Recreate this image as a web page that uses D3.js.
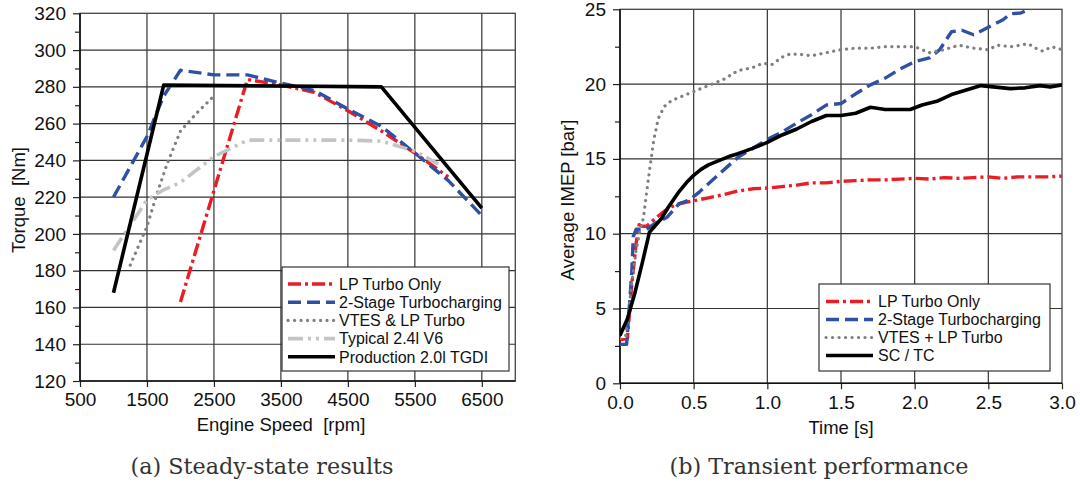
<!DOCTYPE html>
<html><head><meta charset="utf-8">
<script src="https://cdn.jsdelivr.net/npm/d3@7"></script>
<style>
html,body{margin:0;padding:0;background:#fff;}
svg{display:block;}
text{font-family:"Liberation Sans",Arial,Helvetica,sans-serif;}
text.caption{font-family:"DejaVu Serif","Liberation Serif",serif;}
</style></head>
<body>
<svg id="chart" width="1080" height="484"></svg>
<script>
// ---------- Data: (a) steady-state ----------
const rpmTicks = [500,1500,2500,3500,4500,5500,6500];
const torqueTicks = [120,140,160,180,200,220,240,260,280,300,320];
const steadyNames = ["LP Turbo Only","2-Stage Turbocharging","VTES & LP Turbo","Typical 2.4l V6","Production 2.0l TGDI"];
const lpTurboSteady = [[2000,163],[3000,284],[3500,281],[4000,277],[4500,267],[5000,256],[5500,244],[6000,231]];
const twoStageSteady = [[1000,220],[1500,253],[1750,275],[2000,289],[2500,286.5],[3000,286.5],[3500,282],[4000,278],[4500,268],[5000,258.5],[5500,244],[6000,229],[6500,210]];
const vtesSteady = [[1250,183],[1500,204],[1650,222],[1800,238],[2000,256],[2250,266],[2500,275]];
const v6Steady = [[1000,191],[1500,218.5],[1750,224],[2000,228],[2500,242],[3000,251],[3500,251],[4000,251],[4500,251],[5000,250.5],[5500,245],[5850,238]];
const productionSteady = [[1000,168],[1750,281],[5000,280],[6500,214]];

// ---------- Data: (b) transient ----------
const timeTicks = [0,0.5,1.0,1.5,2.0,2.5,3.0];
const imepTicks = [0,5,10,15,20,25];
const transientNames = ["LP Turbo Only","2-Stage Turbocharging","VTES + LP Turbo","SC / TC"];
const lpTurboTransient = [[0,2.9],[0.05,3.0],[0.08,6.6],[0.11,9.4],[0.13,10.6],[0.15,10.5],[0.18,10.5],[0.25,11.1],[0.3,11.5],[0.35,11.8],[0.4,12.0],[0.5,12.2],[0.6,12.4],[0.7,12.6],[0.8,12.85],[0.9,13.0],[1.0,13.05],[1.1,13.15],[1.2,13.25],[1.3,13.4],[1.4,13.4],[1.5,13.5],[1.6,13.55],[1.7,13.6],[1.8,13.6],[1.9,13.65],[2.0,13.7],[2.1,13.65],[2.2,13.75],[2.3,13.7],[2.4,13.75],[2.5,13.8],[2.6,13.7],[2.7,13.8],[2.8,13.8],[2.9,13.8],[3.0,13.85]];
const twoStageTransient = [[0,2.6],[0.045,2.6],[0.08,7.4],[0.09,9.8],[0.11,10.3],[0.18,10.3],[0.24,10.7],[0.32,11.1],[0.4,12.0],[0.47,12.25],[0.54,12.8],[0.63,13.6],[0.72,14.4],[0.8,15.1],[0.9,15.7],[1.0,16.3],[1.1,16.8],[1.2,17.4],[1.3,17.95],[1.4,18.6],[1.5,18.7],[1.6,19.35],[1.7,19.95],[1.8,20.4],[1.9,21.0],[2.0,21.5],[2.1,21.75],[2.17,22.3],[2.25,23.5],[2.32,23.6],[2.4,23.3],[2.5,23.8],[2.6,24.3],[2.65,24.7],[2.72,24.75],[2.8,25.1]];
const vtesTransient = [[0,3.0],[0.04,3.2],[0.08,6.7],[0.11,8.9],[0.135,10.2],[0.16,11.1],[0.18,12.7],[0.2,14.2],[0.23,16.3],[0.26,17.7],[0.3,18.5],[0.35,18.9],[0.4,19.1],[0.5,19.5],[0.6,19.9],[0.7,20.3],[0.8,20.9],[0.9,21.1],[0.97,21.4],[1.03,21.3],[1.1,21.8],[1.15,22.0],[1.2,22.0],[1.3,21.9],[1.4,22.1],[1.5,22.3],[1.6,22.4],[1.7,22.4],[1.8,22.5],[1.9,22.5],[2.0,22.5],[2.05,22.3],[2.1,22.1],[2.2,22.3],[2.3,22.6],[2.4,22.4],[2.5,22.3],[2.56,22.6],[2.66,22.5],[2.77,22.7],[2.82,22.4],[2.87,22.2],[2.93,22.5],[3.0,22.3]];
const scTcTransient = [[0,3.2],[0.05,4.3],[0.1,6.0],[0.15,8.0],[0.2,10.1],[0.28,11.0],[0.33,11.8],[0.4,12.8],[0.45,13.4],[0.5,13.9],[0.55,14.3],[0.6,14.6],[0.7,15.0],[0.75,15.2],[0.8,15.35],[0.9,15.7],[1.0,16.1],[1.1,16.6],[1.2,17.0],[1.3,17.5],[1.4,17.9],[1.5,17.9],[1.6,18.05],[1.7,18.45],[1.8,18.3],[1.9,18.3],[1.97,18.3],[2.05,18.6],[2.15,18.85],[2.25,19.3],[2.35,19.6],[2.45,19.9],[2.55,19.8],[2.65,19.7],[2.75,19.75],[2.85,19.9],[2.92,19.8],[3.0,19.95]];

// ---------- Styles ----------
const styles = {
  red:   {stroke:"#ec1c24", width:3.4, dash:"13,4,3,4", cap:"butt"},
  blue:  {stroke:"#2f50a3", width:3.4, dash:"13,6", cap:"butt"},
  gray:  {stroke:"#808080", width:3.2, dash:"0.1,6.4", cap:"round"},
  light: {stroke:"#c4c4c4", width:3.6, dash:"15,5,3,5,3,5", cap:"butt"},
  black: {stroke:"#000000", width:3.6, dash:null, cap:"butt"}
};

const svg = d3.select("#chart");
let clipId = 0;

function panel(cfg){
  const g = svg.append("g");
  const x = d3.scaleLinear().domain(cfg.xDomain).range(cfg.xRange);
  const y = d3.scaleLinear().domain(cfg.yDomain).range(cfg.yRange);
  const [x0,x1] = cfg.xRange, [y0,y1] = cfg.yRange; // y0 bottom, y1 top

  // grid
  const grid = g.append("g").attr("stroke","#333").attr("stroke-width",1.2);
  cfg.xGrid.forEach(v=>grid.append("line").attr("x1",x(v)).attr("x2",x(v)).attr("y1",y0).attr("y2",y1));
  cfg.yGrid.forEach(v=>grid.append("line").attr("y1",y(v)).attr("y2",y(v)).attr("x1",x0).attr("x2",x1));

  // axes
  const ax = g.append("g").attr("transform",`translate(0,${y0})`)
    .call(d3.axisBottom(x).tickValues(cfg.xTicks).tickFormat(cfg.xFormat).tickSize(6).tickPadding(6));
  const ay = g.append("g").attr("transform",`translate(${x0},0)`)
    .call(d3.axisLeft(y).tickValues(cfg.yTicks).tickSize(7).tickPadding(7));
  const am = g.append("g").attr("transform",`translate(${x0},0)`)
    .call(d3.axisLeft(y).tickValues(cfg.yMinor).tickSize(5).tickFormat(""));
  [ax,ay,am].forEach(a=>{
    a.select(".domain").remove();
    a.selectAll("line").attr("stroke","#222").attr("stroke-width",1.2);
    a.selectAll("text").attr("font-size",19).attr("fill","#111")
      .attr("font-family",'"Liberation Sans",Arial,sans-serif');
  });

  // frame
  g.append("rect").attr("x",x0).attr("y",y1).attr("width",x1-x0).attr("height",y0-y1)
    .attr("fill","none").attr("stroke","#444").attr("stroke-width",1.3);
  g.append("line").attr("x1",x0).attr("x2",x0).attr("y1",y1).attr("y2",y0).attr("stroke","#111").attr("stroke-width",1.6);
  g.append("line").attr("x1",x0).attr("x2",x1).attr("y1",y0).attr("y2",y0).attr("stroke","#111").attr("stroke-width",1.6);

  // clip
  const id = "clip"+(clipId++);
  svg.append("clipPath").attr("id",id).append("rect")
    .attr("x",x0).attr("y",y1).attr("width",x1-x0).attr("height",y0-y1);
  const lines = g.append("g").attr("clip-path",`url(#${id})`);
  const lineGen = d3.line().x(d=>x(d[0])).y(d=>y(d[1]));
  cfg.series.forEach(s=>{
    const st = styles[s.style];
    lines.append("path").datum(s.data).attr("d",lineGen)
      .attr("fill","none").attr("stroke",st.stroke).attr("stroke-width",st.width)
      .attr("stroke-dasharray",st.dash).attr("stroke-linecap",st.cap).attr("stroke-linejoin","round");
  });

  // titles
  g.append("text").attr("x",cfg.xTitleX).attr("y",cfg.xTitleY).attr("text-anchor","middle")
    .attr("font-size",18.5).attr("fill","#111").style("white-space","pre").text(cfg.xTitle);
  g.append("text").attr("transform",`translate(${cfg.yTitleX},${cfg.yTitleY}) rotate(-90)`)
    .attr("text-anchor","middle").attr("font-size",18.5).attr("fill","#111")
    .style("white-space","pre").text(cfg.yTitle);

  // legend
  const L = cfg.legend;
  const lg = g.append("g");
  lg.append("rect").attr("x",L.x).attr("y",L.y).attr("width",L.w).attr("height",L.h)
    .attr("fill","#fff").attr("stroke","#333").attr("stroke-width",1.2);
  cfg.series.forEach((s,i)=>{
    const st = styles[s.style];
    const cy = L.y + L.first + i*L.step;
    lg.append("line").attr("x1",L.x+L.lx1).attr("x2",L.x+L.lx2).attr("y1",cy).attr("y2",cy)
      .attr("stroke",st.stroke).attr("stroke-width",st.width)
      .attr("stroke-dasharray",st.dash).attr("stroke-linecap",st.cap);
    lg.append("text").attr("x",L.x+L.tx).attr("y",cy).attr("dy","0.36em")
      .attr("font-size",16).attr("fill","#111").text(s.name);
  });

  // caption
  svg.append("text").attr("class","caption").attr("x",cfg.capX).attr("y",474).attr("text-anchor","middle")
    .style("font-family",'"DejaVu Serif","Liberation Serif",serif').attr("font-size",22.3)
    .attr("fill","#333").text(cfg.caption);
}

panel({
  xDomain:[500,7000], xRange:[80,515.3], yDomain:[120,320], yRange:[381,13.3],
  xTicks:rpmTicks, xFormat:d3.format("d"), xGrid:[1500,2500,3500,4500,5500,6500],
  yTicks:torqueTicks, yGrid:[140,160,180,200,220,240,260,280,300],
  yMinor:d3.range(130,320,20),
  series:[
    {name:steadyNames[0], style:"red", data:lpTurboSteady},
    {name:steadyNames[1], style:"blue", data:twoStageSteady},
    {name:steadyNames[2], style:"gray", data:vtesSteady},
    {name:steadyNames[3], style:"light", data:v6Steady},
    {name:steadyNames[4], style:"black", data:productionSteady}
  ],
  xTitle:"Engine Speed  [rpm]", xTitleX:281, xTitleY:431,
  yTitle:"Torque  [Nm]", yTitleX:25, yTitleY:200,
  legend:{x:282, y:267, w:227, h:104, first:17, step:18.2, lx1:6, lx2:53, tx:57},
  caption:"(a) Steady-state results", capX:262
});

panel({
  xDomain:[0,3], xRange:[620,1062], yDomain:[0,25], yRange:[383.3,9.3],
  xTicks:timeTicks, xFormat:d3.format(".1f"), xGrid:[0.5,1.0,1.5,2.0,2.5],
  yTicks:imepTicks, yGrid:[5,10,15,20],
  yMinor:[2.5,7.5,12.5,17.5,22.5],
  series:[
    {name:transientNames[0], style:"red", data:lpTurboTransient},
    {name:transientNames[1], style:"blue", data:twoStageTransient},
    {name:transientNames[2], style:"gray", data:vtesTransient},
    {name:transientNames[3], style:"black", data:scTcTransient}
  ],
  xTitle:"Time [s]", xTitleX:841, xTitleY:434,
  yTitle:"Average IMEP [bar]", yTitleX:574, yTitleY:200,
  legend:{x:819, y:284, w:231, h:87, first:17.5, step:18, lx1:7, lx2:54, tx:59},
  caption:"(b) Transient performance", capX:819
});
</script>
</body></html>
